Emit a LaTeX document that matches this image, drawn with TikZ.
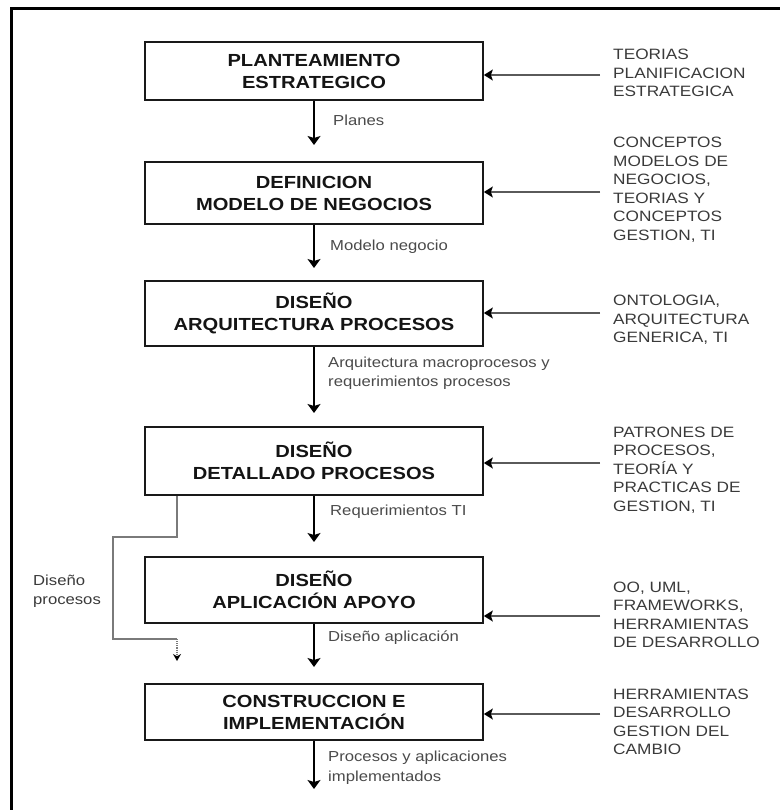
\documentclass[tikz,border=0pt]{standalone}
\usepackage{fontspec}
\setmainfont{Liberation Sans}[FakeStretch=1.15]
\usetikzlibrary{arrows.meta}
\definecolor{boxtext}{HTML}{141414}
\definecolor{sidetext}{HTML}{3A3A3A}
\definecolor{edgetext}{HTML}{4A4A4A}
\definecolor{feedline}{HTML}{5A5A5A}
\definecolor{pathline}{HTML}{7A7A7A}
\tikzset{
  stage/.style={draw=black!90, line width=1.7pt, minimum width=338pt, inner sep=0pt,
    align=center, text=boxtext, font=\fontsize{17.5}{22}\selectfont\bfseries},
  flow/.style={draw=black, line width=1.3pt, -{Stealth[length=9pt,width=13pt,inset=2pt]}},
  feed/.style={draw=feedline, line width=1.5pt, -{Stealth[length=9pt,width=11pt,inset=2pt,color=black]}},
  source/.style={anchor=west, align=left, inner sep=0pt, text=sidetext,
    font=\fontsize{15}{18.5}\selectfont},
  flowlabel/.style={anchor=west, align=left, inner sep=0pt, text=edgetext,
    font=\fontsize{14.5}{19.5}\selectfont},
  sidepath/.style={draw=pathline, line width=1.5pt},
}
\begin{document}
\begin{tikzpicture}[x=1pt,y=-1pt]
\useasboundingbox (0,0) rectangle (779,810);
% outer frame
\draw[line width=3pt] (11,9) rectangle (800,830);

% stages
\node[stage, minimum height=58pt] (b1) at (314,71) {PLANTEAMIENTO\\ESTRATEGICO};
\node[stage, minimum height=62pt] (b2) at (314,193) {DEFINICION\\MODELO DE NEGOCIOS};
\node[stage, minimum height=65pt] (b3) at (314,313.5) {DISEÑO\\ARQUITECTURA PROCESOS};
\node[stage, minimum height=68pt] (b4) at (314,461) {DISEÑO\\DETALLADO PROCESOS};
\node[stage, minimum height=66pt] (b5) at (314,590) {DISEÑO\\APLICACIÓN APOYO};
\node[stage, minimum height=56pt] (b6) at (314,712) {CONSTRUCCION E\\IMPLEMENTACIÓN};

% arrow ends between stages
\coordinate (e1) at (314,145);
\coordinate (e2) at (314,268);
\coordinate (e3) at (314,413);
\coordinate (e4) at (314,542);
\coordinate (e5) at (314,667);
\coordinate (e6) at (314,789);

\draw[flow] (b1.south) -- (e1);
\draw[flow] (b2.south) -- (e2);
\draw[flow] (b3.south) -- (e3);
\draw[flow] (b4.south) -- (e4);
\draw[flow] (b5.south) -- (e5);
\draw[flow] (b6.south) -- (e6);

% labels on the main flow
\node[flowlabel] (l1) at (333,120) {Planes};
\node[flowlabel] (l2) at (330,247) {Modelo negocio};
\node[flowlabel] (l3) at (328,373) {Arquitectura macroprocesos y\\requerimientos procesos};
\node[flowlabel] (l4) at (330,512) {Requerimientos TI};
\node[flowlabel] (l5) at (328,638) {Diseño aplicación};
\node[flowlabel] (l6) at (328,767.5) {Procesos y aplicaciones\\implementados};

% knowledge sources on the right
\node[source] (t1) at (613,73) {TEORIAS\\PLANIFICACION\\ESTRATEGICA};
\node[source] (t2) at (613,189.5) {CONCEPTOS\\MODELOS DE\\NEGOCIOS,\\TEORIAS Y\\CONCEPTOS\\GESTION, TI};
\node[source] (t3) at (613,320) {ONTOLOGIA,\\ARQUITECTURA\\GENERICA, TI};
\node[source] (t4) at (613,470) {PATRONES DE\\PROCESOS,\\TEORÍA Y\\PRACTICAS DE\\GESTION, TI};
\node[source] (t5) at (613,615) {OO, UML,\\FRAMEWORKS,\\HERRAMIENTAS\\DE DESARROLLO};
\node[source] (t6) at (613,722) {HERRAMIENTAS\\DESARROLLO\\GESTION DEL\\CAMBIO};

\coordinate (s1) at (600,75);
\coordinate (s2) at (600,192);
\coordinate (s3) at (600,313);
\coordinate (s4) at (600,463);
\coordinate (s5) at (600,616);
\coordinate (s6) at (600,714);

\draw[feed] (s1) -- (b1.east |- s1);
\draw[feed] (s2) -- (b2.east |- s2);
\draw[feed] (s3) -- (b3.east |- s3);
\draw[feed] (s4) -- (b4.east |- s4);
\draw[feed] (s5) -- (b5.east |- s5);
\draw[feed] (s6) -- (b6.east |- s6);

% process design path bypassing the application stage
\coordinate (dp) at (177,661);
\draw[sidepath] (b4.south -| dp) -- (177,537) -- (113,537) -- (113,639) -- (177,639);
\draw[draw=pathline, line width=1.1pt, densely dotted,
  -{Stealth[length=7pt,width=8pt,color=black]}] (177,639) -- (dp);
\node[flowlabel, text=sidetext] (lp) at (33,591) {Diseño\\procesos};
\end{tikzpicture}
\end{document}
